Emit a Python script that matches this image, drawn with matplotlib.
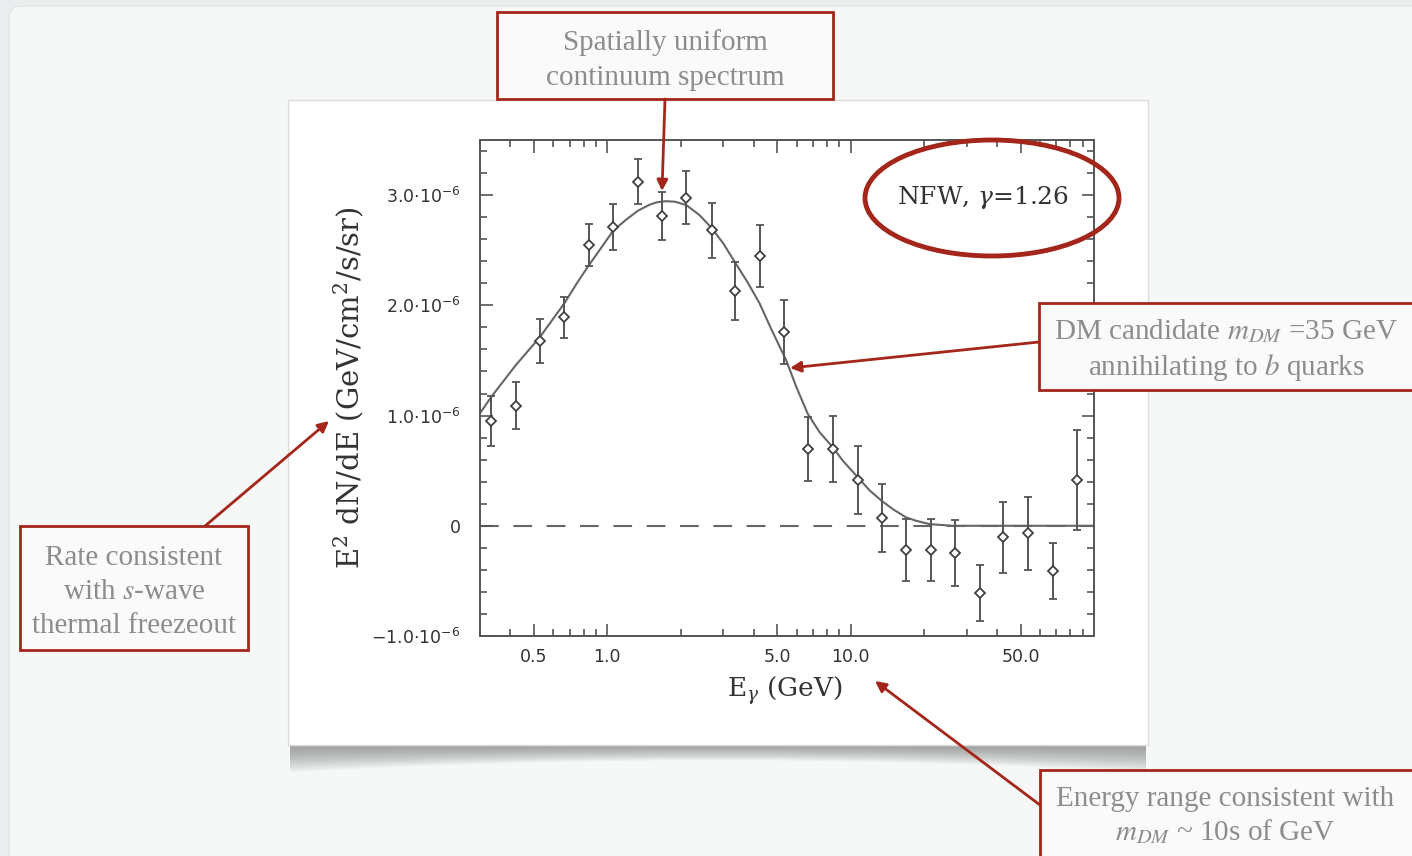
import numpy as np
import matplotlib
matplotlib.use("Agg")
import matplotlib.pyplot as plt
from matplotlib.patches import Rectangle, Ellipse, FancyArrowPatch, FancyBboxPatch, PathPatch
from matplotlib.path import Path
from matplotlib.ticker import FixedLocator, NullFormatter

# measured points (energy in GeV, E^2 dN/dE in units of 1e-6 GeV/cm^2/s/sr)
energy = [0.334, 0.42, 0.528, 0.667, 0.838, 1.06, 1.34, 1.68, 2.11, 2.69, 3.35, 4.25, 5.32,
          6.67, 8.46, 10.7, 13.45, 16.9, 21.4, 26.9, 34.0, 42.4, 53.7, 67.6, 85.2]
flux = [0.95, 1.09, 1.675, 1.89, 2.545, 2.71, 3.12, 2.81, 2.975, 2.68, 2.13, 2.45, 1.76,
        0.70, 0.70, 0.415, 0.07, -0.22, -0.22, -0.25, -0.61, -0.105, -0.07, -0.41, 0.415]
flux_err = [0.225, 0.21, 0.2, 0.19, 0.19, 0.21, 0.205, 0.22, 0.24, 0.25, 0.265, 0.28, 0.29,
            0.29, 0.30, 0.305, 0.31, 0.28, 0.28, 0.30, 0.255, 0.32, 0.335, 0.25, 0.45]

# DM model curve
model_e = [0.302, 0.334, 0.42, 0.528, 0.667, 0.75, 0.838, 0.95, 1.06, 1.2, 1.34, 1.5, 1.6,
           1.745, 1.9, 2.11, 2.39, 2.69, 3.0, 3.35, 3.77, 4.22, 4.73, 5.44, 5.98, 6.67,
           7.45, 8.46, 9.29, 10.7, 11.98, 13.4, 14.93, 16.9, 18.6, 21.1, 26.3, 100.0]
model_flux = [1.03, 1.17, 1.455, 1.71, 2.02, 2.2, 2.36, 2.53, 2.68, 2.78, 2.86, 2.915, 2.935,
              2.945, 2.94, 2.91, 2.82, 2.70, 2.56, 2.39, 2.21, 2.02, 1.78, 1.5, 1.26, 1.015,
              0.85, 0.71, 0.59, 0.44, 0.32, 0.227, 0.15, 0.076, 0.045, 0.015, 0.0, 0.0]

xtick_vals = [0.5, 1.0, 5.0, 10.0, 50.0]
xtick_labels = ["0.5", "1.0", "5.0", "10.0", "50.0"]
ytick_vals = [-1.0, 0.0, 1.0, 2.0, 3.0]
ytick_labels = [r"$-1.0{\cdot}10^{-6}$", "0", r"$1.0{\cdot}10^{-6}$",
                r"$2.0{\cdot}10^{-6}$", r"$3.0{\cdot}10^{-6}$"]

W, H = 1412, 856
RED = "#a4261b"
TXT = "#8c8c8c"
ink = "#404040"

fig = plt.figure(figsize=(W / 100, H / 100), dpi=100)
fig.patch.set_facecolor("#eaeded")

# background layer in pixel coords
bg = fig.add_axes([0, 0, 1, 1], zorder=0)
bg.set_xlim(0, W)
bg.set_ylim(H, 0)
bg.axis("off")
bg.add_patch(FancyBboxPatch((9, 6), 1430, 900, boxstyle="round,pad=0,rounding_size=12",
                            fc="#f6f8f8", ec="#e2e5e5", lw=1))
# curled-paper shadow under the sheet
for k in range(12):
    d = 28 - 2 * k
    verts = [(290, 744), (1146, 744), (1146, 744 + d), (718, 744 + d * 0.15), (290, 744 + d), (290, 744)]
    codes = [Path.MOVETO, Path.LINETO, Path.LINETO, Path.CURVE3, Path.CURVE3, Path.CLOSEPOLY]
    bg.add_patch(PathPatch(Path(verts, codes), fc="#606060", ec="none", alpha=0.06))
bg.add_patch(Rectangle((288, 100), 860, 645, fc="white", ec="#dcdcdc", lw=1))

# main chart
ax = fig.add_axes([480 / W, 1 - 636 / H, 614 / W, 496 / H], zorder=1)
ax.set_facecolor("none")
ax.set_xscale("log")
ax.set_xlim(0.3, 100)
ax.set_ylim(-1.0, 3.5)

ax.axhline(0, color="#666666", lw=1.5, dashes=(9, 7), zorder=1)
ax.plot(model_e, model_flux, color="#666666", lw=1.5, zorder=2)
ax.errorbar(energy, flux, yerr=flux_err, fmt="D", ms=5.5, mfc="white", mec=ink, mew=1.3,
            ecolor="#555555", elinewidth=1.4, capsize=3, capthick=1.4, zorder=3)

for s in ax.spines.values():
    s.set_color("#555555")
    s.set_linewidth(1.4)

ax.xaxis.set_major_locator(FixedLocator(xtick_vals))
ax.set_xticklabels(xtick_labels)
minor_x = [m * 10.0 ** p for p in (-1, 0, 1) for m in range(2, 10)
           if 0.3 <= m * 10.0 ** p <= 100 and m * 10.0 ** p not in xtick_vals]
ax.xaxis.set_minor_locator(FixedLocator(minor_x))
ax.xaxis.set_minor_formatter(NullFormatter())
ax.yaxis.set_major_locator(FixedLocator(ytick_vals))
ax.set_yticklabels(ytick_labels)
ax.yaxis.set_minor_locator(FixedLocator(np.arange(-1.0, 3.51, 0.2)))

ax.tick_params(which="both", direction="in", top=True, right=True, color="#555555", width=1.2,
               labelsize=12.5, labelcolor="#333333")
ax.tick_params(which="major", length=9)
ax.tick_params(which="minor", length=5)
ax.tick_params(axis="y", pad=14)
ax.tick_params(axis="x", pad=9)

ax.set_xlabel(r"E$_\gamma$ (GeV)", fontsize=19, family="DejaVu Serif", color="#333333",
              math_fontfamily="dejavuserif")
ax.xaxis.set_label_coords(0.497, -0.078)
ax.set_ylabel(r"E$^2$ dN/dE (GeV/cm$^2$/s/sr)", fontsize=21, family="DejaVu Serif", color="#333333",
              math_fontfamily="dejavuserif")
ax.yaxis.set_label_coords(-0.186, 0.5)

ax.text(0.819, 0.885, r"NFW, $\gamma$=1.26", transform=ax.transAxes, fontsize=18,
        family="DejaVu Serif", color="#333333", ha="center", va="center",
        math_fontfamily="dejavuserif")

# annotation overlay
fg = fig.add_axes([0, 0, 1, 1], zorder=3)
fg.set_xlim(0, W)
fg.set_ylim(H, 0)
fg.axis("off")
fg.patch.set_alpha(0)

fg.add_patch(Ellipse((992, 198), 254, 116, fill=False, ec=RED, lw=3.5))

boxes = [
    ((497, 12, 336, 87), (665, 60), "Spatially uniform\ncontinuum spectrum", 1.45),
    ((1039, 303, 380, 87), (1226, 350), "DM candidate $m_{DM}$ =35 GeV\nannihilating to $b$ quarks", 1.3),
    ((20, 526, 228, 124), (134, 592), "Rate consistent\nwith $s$-wave\nthermal freezeout", 1.4),
    ((1040, 770, 380, 100), (1225, 816), "Energy range consistent with\n$m_{DM}$ ~ 10s of GeV", 1.25),
]
for (x, y, w, h), (tx, ty), label, ls in boxes:
    fg.add_patch(Rectangle((x, y), w, h, fc="#fafafa", ec=RED, lw=2))
    fg.text(tx, ty, label, ha="center", va="center", fontsize=21, color=TXT,
            family="Liberation Serif", math_fontfamily="stix", linespacing=ls)

arrows = [((665, 99), (662, 191)), ((1039, 342), (790, 368)),
          ((205, 526), (329, 421)), ((1040, 805), (875, 681))]
for start, end in arrows:
    fg.add_patch(FancyArrowPatch(start, end, arrowstyle="-|>", mutation_scale=16,
                                 color=RED, lw=2, shrinkA=0, shrinkB=0))

fig.savefig("out.png", dpi=100, facecolor=fig.get_facecolor())
